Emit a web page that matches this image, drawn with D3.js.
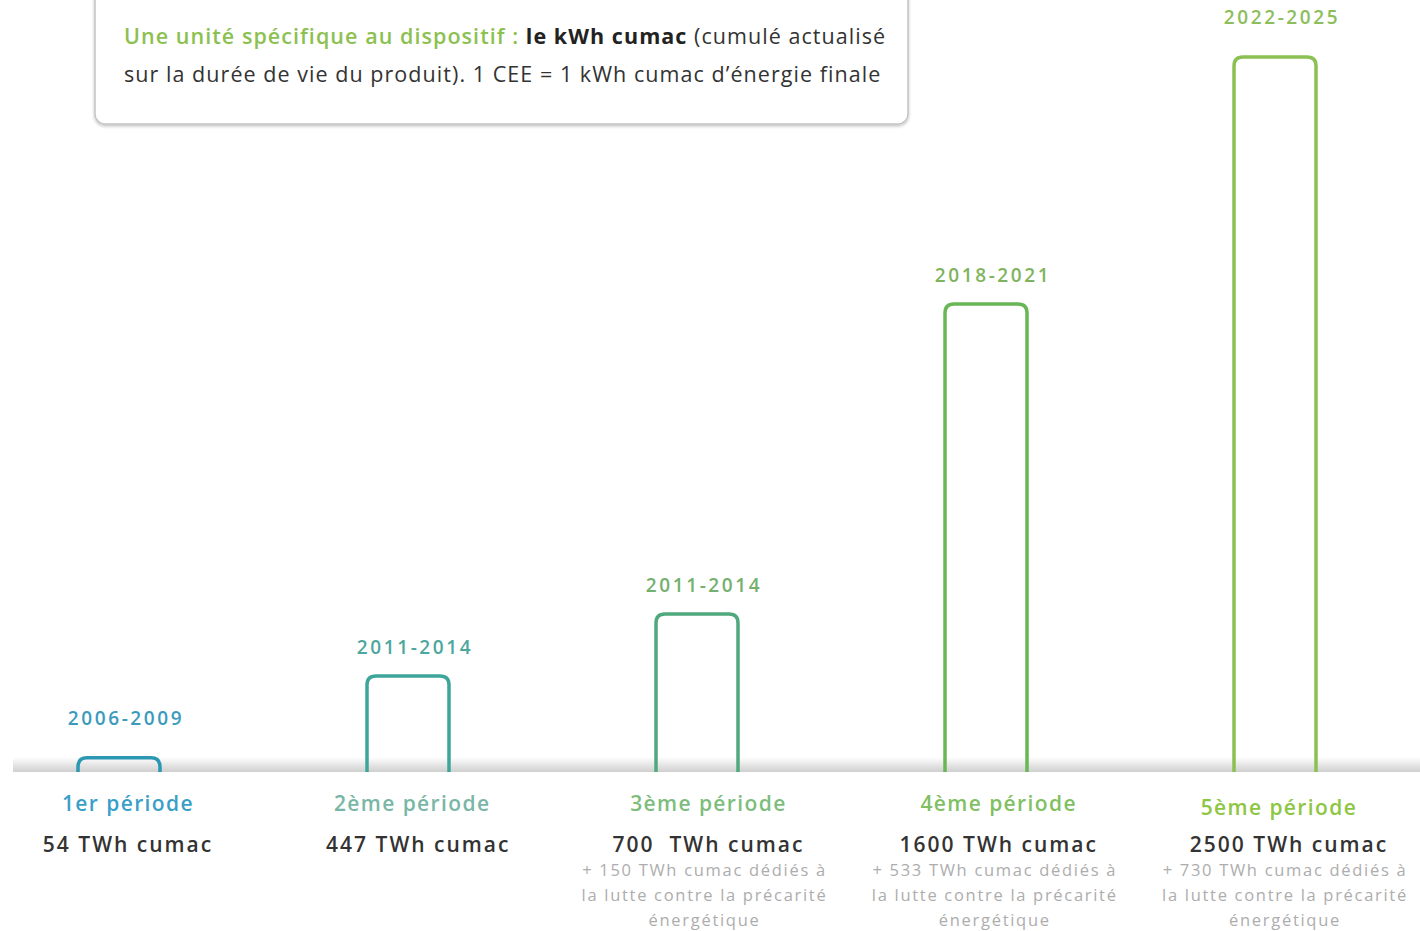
<!DOCTYPE html>
<html>
<head>
<meta charset="utf-8">
<script src="https://cdn.jsdelivr.net/npm/d3@7"></script>
<style>
  body { margin: 0; background: #fff; }
  text { font-family: "Open Sans", sans-serif; }
</style>
</head>
<body>
<div id="chart-container"></div>
<script>
// Data
const periods = ["1er période", "2ème période", "3ème période", "4ème période", "5ème période"];
const years = ["2006-2009", "2011-2014", "2011-2014", "2018-2021", "2022-2025"];
const valueLabels = ["54 TWh cumac", "447 TWh cumac", "700  TWh cumac", "1600 TWh cumac", "2500 TWh cumac"];
const precarite = [null, null, 150, 533, 730];
// bar heights as drawn (the infographic is not to scale), in TWh-equivalent units
const barLevels = [46, 333, 550, 1635, 2500];
const barColors = ["#2b97b2", "#3ea59b", "#4fa97c", "#68b655", "#8bc153"];
const yearColors = ["#3b9bbd", "#4ea79e", "#74b06e", "#7fb45e", "#8dbe5c"];
const periodColors = ["#3a9fc8", "#79b6a6", "#7dbd7c", "#80bf62", "#8cc642"];

const width = 1420, height = 931;
const baseY = 771;

const svg = d3.select("#chart-container")
  .append("svg")
  .attr("width", width)
  .attr("height", height);

const defs = svg.append("defs");
const grad = defs.append("linearGradient")
  .attr("id", "shade").attr("x1", 0).attr("y1", 0).attr("x2", 0).attr("y2", 1);
grad.append("stop").attr("offset", "0%").attr("stop-color", "#fff");
grad.append("stop").attr("offset", "100%").attr("stop-color", "#cfcfcf");

const boxShadow = defs.append("filter").attr("id", "boxshadow")
  .attr("x", "-5%").attr("y", "-20%").attr("width", "110%").attr("height", "140%");
boxShadow.append("feDropShadow").attr("dx", 0).attr("dy", 1.5)
  .attr("stdDeviation", 1.5).attr("flood-color", "#000").attr("flood-opacity", 0.25);

// scales
const x = d3.scalePoint().domain(d3.range(5)).range([119, 1275]);
const xt = d3.scalePoint().domain(d3.range(5)).range([128, 1289]);
const y = d3.scaleLinear().domain([0, 2500]).range([baseY, 57]);
const barW = 82, r = 9;

// baseline shade
svg.append("rect")
  .attr("x", 13).attr("y", baseY - 14)
  .attr("width", width - 13).attr("height", 15)
  .attr("fill", "url(#shade)");

// bars: open outline with rounded top corners
function barPath(i) {
  const x0 = x(i) - barW / 2, x1 = x(i) + barW / 2, top = y(barLevels[i]);
  return `M${x0},${baseY + 1} L${x0},${top + r} Q${x0},${top} ${x0 + r},${top}` +
    ` L${x1 - r},${top} Q${x1},${top} ${x1},${top + r} L${x1},${baseY + 1}`;
}
svg.selectAll(".bar")
  .data(barLevels)
  .enter().append("path")
  .attr("class", "bar")
  .attr("d", (d, i) => barPath(i))
  .attr("fill", "none")
  .attr("stroke", (d, i) => barColors[i])
  .attr("stroke-width", 3.5);

// year labels above bars
svg.selectAll(".year")
  .data(years)
  .enter().append("text")
  .attr("class", "year")
  .attr("x", (d, i) => x(i) + 7)
  .attr("y", (d, i) => y(barLevels[i]) - (i === 0 || i === 4 ? 33 : 22))
  .attr("text-anchor", "middle")
  .attr("font-size", 19)
  .attr("font-weight", 600)
  .attr("letter-spacing", 2.6)
  .attr("fill", (d, i) => yearColors[i])
  .text(d => d);

// period labels
svg.selectAll(".period")
  .data(periods)
  .enter().append("text")
  .attr("class", "period")
  .attr("x", (d, i) => xt(i) - (i === 1 ? 6 : 0) - (i === 4 ? 10 : 0))
  .attr("y", (d, i) => i === 4 ? 815 : 811)
  .attr("text-anchor", "middle")
  .attr("font-size", 21)
  .attr("font-weight", 600)
  .attr("letter-spacing", 1.4)
  .attr("fill", (d, i) => periodColors[i])
  .text(d => d);

// values
svg.selectAll(".value")
  .data(valueLabels)
  .enter().append("text")
  .attr("class", "value")
  .attr("x", (d, i) => xt(i))
  .attr("y", 852)
  .attr("text-anchor", "middle")
  .attr("font-size", 21)
  .attr("font-weight", 600)
  .attr("letter-spacing", 2)
  .attr("fill", "#333")
  .style("white-space", "pre")
  .text(d => d);

// précarité notes
const notes = svg.selectAll(".note")
  .data(precarite.map((v, i) => ({ v, i })).filter(d => d.v !== null))
  .enter().append("text")
  .attr("class", "note")
  .attr("text-anchor", "middle")
  .attr("font-size", 16.5)
  .attr("letter-spacing", 1.7)
  .attr("fill", "#adadad");
const noteLines = v => [`+ ${v} TWh cumac dédiés à`, "la lutte contre la précarité", "énergétique"];
notes.each(function(d) {
  const t = d3.select(this);
  noteLines(d.v).forEach((line, k) => {
    t.append("tspan")
      .attr("x", xt(d.i) - 4)
      .attr("y", 876 + k * 25)
      .text(line);
  });
});

// info box at top
svg.append("rect")
  .attr("x", 95).attr("y", -12)
  .attr("width", 813).attr("height", 136)
  .attr("rx", 10)
  .attr("fill", "#fff")
  .attr("stroke", "#c4c4c4")
  .attr("stroke-width", 1.5)
  .attr("filter", "url(#boxshadow)");

const line1 = svg.append("text")
  .attr("x", 124).attr("y", 44)
  .attr("font-size", 21.5)
  .attr("letter-spacing", 1.05)
  .attr("fill", "#333");
line1.append("tspan").attr("fill", "#8cc152").attr("font-weight", 600)
  .text("Une unité spécifique au dispositif : ");
line1.append("tspan").attr("font-weight", 700).attr("fill", "#222").text("le kWh cumac");
line1.append("tspan").text(" (cumulé actualisé");

svg.append("text")
  .attr("x", 124).attr("y", 82)
  .attr("font-size", 21.5)
  .attr("letter-spacing", 1.05)
  .attr("fill", "#333")
  .text("sur la durée de vie du produit). 1 CEE = 1 kWh cumac d’énergie finale");
</script>
</body>
</html>
